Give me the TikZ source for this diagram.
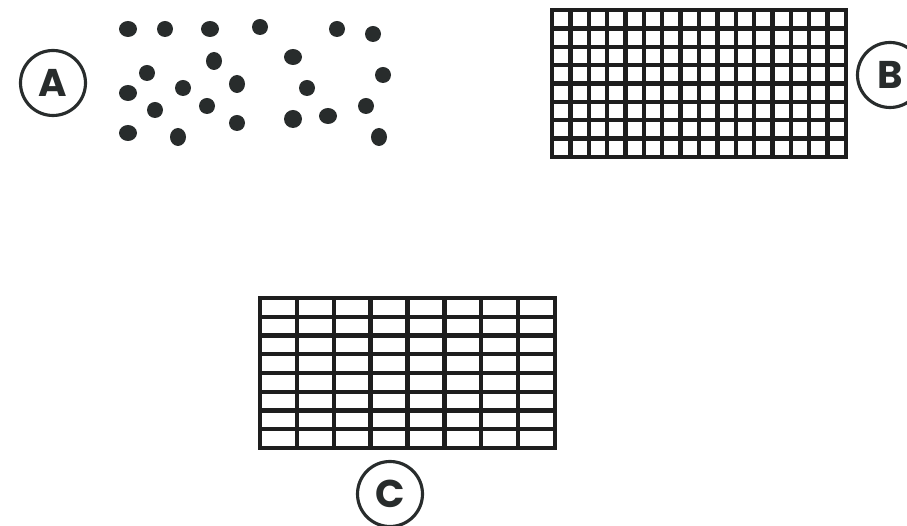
\documentclass[tikz,border=0pt]{standalone}
\usepackage{fontspec}
\setmainfont{Poppins}
\definecolor{inkdark}{RGB}{40,44,44}
\definecolor{gridink}{RGB}{30,30,30}
\tikzset{
  tag/.style={draw=inkdark, circle, line width=1.8pt, minimum size=1.3cm,
              inner sep=0pt, font=\fontsize{22}{24}\selectfont\bfseries, text=inkdark},
  dot/.style={fill=inkdark},
  gridline/.style={draw=gridink, line width=2.5pt, line cap=rect},
}

\begin{document}
\begin{tikzpicture}[x=0.02cm, y=-0.02cm]

% page
\useasboundingbox (0,0) rectangle (907,526);
\clip (0,0) rectangle (907,526);

% Labels
\node[tag] (labA) at (53,83) {A};
\node[tag] (labB) at (890,75) {B};
\node[tag] (labC) at (390,494) {C};

% A: scattered particles
\foreach \px/\py/\rx/\ry in {128/29/9/8, 165/29/8/8, 210/29/9/8, 260/27/8/8,
    337/29/8/8, 373/34/8/8, 214/61/8/9, 293/57/9/8, 147/73/8/8, 383/75/8/8,
    128/93/9/8, 183/88/8/8, 237/84/8/9, 307/88/8/8, 155/110/8/8, 207/106/8/8,
    366/106/8/8, 328/116/9/8, 293/119/9/9, 237/123/8/8, 128/133/9/8,
    178/137/8/9, 379/137/8/9}
  \fill[dot] (\px,\py) ellipse[x radius=\rx, y radius=\ry];

% B: fine square grid
\foreach \i in {0,...,16}
  \draw[gridline] ({552+\i*294/16},10) -- ({552+\i*294/16},157);
\foreach \j in {0,...,8}
  \draw[gridline] (552,{10+\j*147/8}) -- (846,{10+\j*147/8});

% C: coarse brick grid
\foreach \i in {0,...,8}
  \draw[gridline] ({260+\i*295/8},298) -- ({260+\i*295/8},448);
\foreach \j in {0,...,8}
  \draw[gridline] (260,{298+\j*150/8}) -- (555,{298+\j*150/8});

\end{tikzpicture}
\end{document}
